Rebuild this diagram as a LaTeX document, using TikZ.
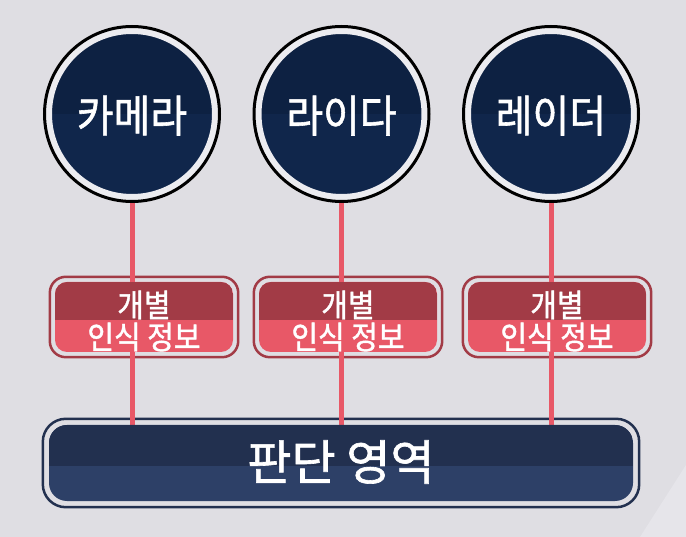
\documentclass[tikz,border=0pt]{standalone}
\usepackage{graphicx}
\usepackage{fontspec}
\newfontfamily\kr{Noto Sans CJK KR}[FakeBold=1.3]
\usetikzlibrary{backgrounds}
\definecolor{bgc}{HTML}{DFDEE3}
\definecolor{bglight}{HTML}{E6E5EA}
\definecolor{navy}{HTML}{0D2142}
\definecolor{navylow}{HTML}{10264B}
\definecolor{gapc}{HTML}{ECECF0}
\definecolor{reddark}{HTML}{A23B46}
\definecolor{redlight}{HTML}{E85867}
\definecolor{jdark}{HTML}{22304F}
\definecolor{jlight}{HTML}{2D4067}
\newcommand{\tall}[2]{\raisebox{#1}[0pt][0pt]{\scalebox{1}[1.1]{#2}}}
\begin{document}
\begin{tikzpicture}[x=1pt,y=-1pt,
  sensor/.style={circle, minimum size=166pt, inner sep=0pt, fill=navy, draw=gapc, line width=6pt,
    text=white, font=\kr\fontsize{40}{42}\selectfont,
    path picture={\fill[navylow,sharp corners] (path picture bounding box.west) rectangle (path picture bounding box.south east);}},
  ring/.style={draw=black, line width=3pt},
  info/.style={rectangle, rounded corners=12pt, minimum width=178pt, minimum height=70pt, inner sep=0pt,
    fill=redlight, text=white, align=center, font=\kr\fontsize{29}{32}\selectfont,
    path picture={\fill[reddark,sharp corners] (path picture bounding box.north west) rectangle ([yshift=-38pt]path picture bounding box.north east);}},
  infoframe/.style={draw=reddark, line width=2.5pt, rounded corners=16pt},
  judgebox/.style={rectangle, rounded corners=18pt, minimum width=584pt, minimum height=76pt, inner sep=0pt,
    fill=jlight, text=white, font=\kr\fontsize{48}{50}\selectfont,
    path picture={\fill[jdark,sharp corners] (path picture bounding box.north west) rectangle ([yshift=-41pt]path picture bounding box.north east);}},
  judgeframe/.style={draw=jdark, line width=2.5pt, rounded corners=23pt},
  conn/.style={draw=redlight, line width=5pt}
]
\useasboundingbox (0,0) rectangle (686,537);

\node[sensor] (cam) at (132,114) {\tall{-18pt}{카메라}};
\node[sensor] (lidar) at (341.5,114) {\tall{-18pt}{라이다}};
\node[sensor] (radar) at (551,114) {\tall{-18pt}{레이더}};
\draw[ring] (cam) circle (87.5pt);
\draw[ring] (lidar) circle (87.5pt);
\draw[ring] (radar) circle (87.5pt);

\node[info] (i1) at (144,317) {\tall{-16pt}{개별}\\\tall{-16pt}{인식 정보}};
\node[info] (i2) at (348,317) {\tall{-16pt}{개별}\\\tall{-16pt}{인식 정보}};
\node[info] (i3) at (557,317) {\tall{-16pt}{개별}\\\tall{-16pt}{인식 정보}};

\node[judgebox] (judge) at (341,463) {\raisebox{-17pt}[0pt][0pt]{판단 영역}};

\begin{pgfonlayer}{background}
  \fill[bgc] (0,0) rectangle (686,537);
  \fill[bglight] (640,537) -- (686,465) -- (686,537) -- cycle;
  \foreach \b in {i1,i2,i3}{
    \draw[infoframe] ([xshift=-5pt,yshift=5pt]\b.north west) rectangle ([xshift=5pt,yshift=-5pt]\b.south east);
  }
  \draw[judgeframe] ([xshift=-6pt,yshift=6pt]judge.north west) rectangle ([xshift=6pt,yshift=-6pt]judge.south east);
  \draw[conn] (cam.center) -- (cam.center |- judge.north);
  \draw[conn] (lidar.center) -- (lidar.center |- judge.north);
  \draw[conn] (radar.center) -- (radar.center |- judge.north);
\end{pgfonlayer}
\end{tikzpicture}
\end{document}
